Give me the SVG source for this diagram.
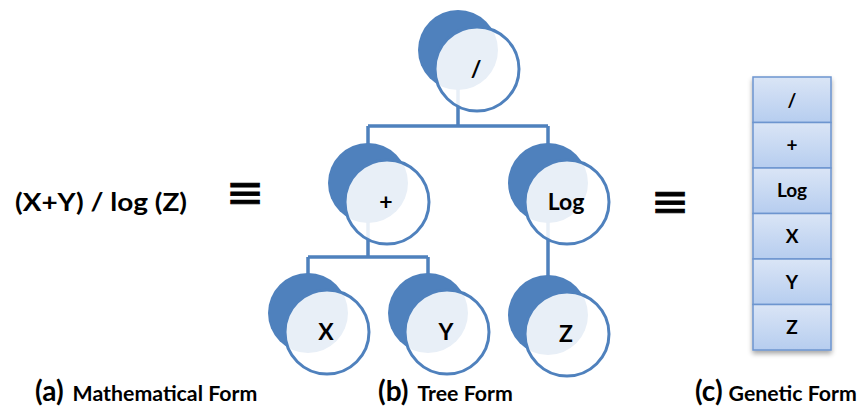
<svg xmlns="http://www.w3.org/2000/svg" width="862" height="410" viewBox="0 0 862 410">
  <defs>
    <style>
      .lbl { font-family: Lato, "Open Sans", "Liberation Sans", sans-serif; font-weight: bold; fill: #000; }
      .node-text { font-size: 23px; text-anchor: middle; }
      .cell-text { font-size: 19px; text-anchor: middle; }
      .back { fill: #4f81bd; }
      .front { fill: #ffffff; fill-opacity: 0.87; stroke: #4f81bd; stroke-width: 3; }
      .edge { fill: none; stroke: #4f81bd; stroke-width: 3.5; }
      .cell { fill: url(#cellGrad); stroke: #6d95cf; stroke-width: 1.5; }
      .equiv { font-family: "DejaVu Sans", sans-serif; font-size: 46px; text-anchor: middle; fill: #000; stroke: #000; stroke-width: 0.8; }
      .cap-tag { font-size: 28px; }
      .cap-text { font-size: 21.3px; }
    </style>
    <linearGradient id="cellGrad" x1="0" y1="0" x2="0" y2="1">
      <stop offset="0" stop-color="#dae5f6"/>
      <stop offset="1" stop-color="#b6cdef"/>
    </linearGradient>
    <filter id="shadow" x="-20%" y="-10%" width="140%" height="120%">
      <feGaussianBlur in="SourceAlpha" stdDeviation="2.5"/>
      <feOffset dx="0" dy="3" result="b"/>
      <feComponentTransfer><feFuncA type="linear" slope="0.35"/></feComponentTransfer>
      <feMerge><feMergeNode/><feMergeNode in="SourceGraphic"/></feMerge>
    </filter>
  </defs>

  <!-- (a) mathematical form -->
  <g id="math-form">
    <text class="lbl" x="15" y="211" font-size="25" textLength="172" lengthAdjust="spacingAndGlyphs">(X+Y) / log (Z)</text>
  </g>
  <text class="equiv" x="245" y="208">≡</text>
  <text class="equiv" x="670" y="216.5">≡</text>

  <!-- tree connectors -->
  <g id="connectors">
    <path class="edge" d="M458 50 V126 M368 126 H548 M368 126 V160 M548 126 V160"/>
    <path class="edge" d="M368 183 V257 M308 257 H428 M308 257 V290 M428 257 V290"/>
    <path class="edge" d="M548 183 V290"/>
  </g>

  <!-- tree nodes: filled back disc plus translucent front disc -->
  <g id="node-div">
    <circle class="back" cx="458" cy="50" r="40"/>
    <circle class="front" cx="477" cy="69" r="42"/>
    <text class="lbl node-text" x="476" y="77">/</text>
  </g>
  <g id="node-plus">
    <circle class="back" cx="368" cy="183" r="40"/>
    <circle class="front" cx="387" cy="202" r="42"/>
    <text class="lbl node-text" x="386" y="210">+</text>
  </g>
  <g id="node-log">
    <circle class="back" cx="548" cy="183" r="40"/>
    <circle class="front" cx="567" cy="202" r="42"/>
    <text class="lbl node-text" x="566" y="210">Log</text>
  </g>
  <g id="node-x">
    <circle class="back" cx="308" cy="313" r="40"/>
    <circle class="front" cx="327" cy="332" r="42"/>
    <text class="lbl node-text" x="326" y="340">X</text>
  </g>
  <g id="node-y">
    <circle class="back" cx="428" cy="313" r="40"/>
    <circle class="front" cx="447" cy="332" r="42"/>
    <text class="lbl node-text" x="446" y="340">Y</text>
  </g>
  <g id="node-z">
    <circle class="back" cx="548" cy="315" r="40"/>
    <circle class="front" cx="567" cy="334" r="42"/>
    <text class="lbl node-text" x="566" y="342">Z</text>
  </g>

  <!-- (c) genetic form: chromosome cells -->
  <g id="genome" filter="url(#shadow)">
    <rect class="cell" x="753" y="77" width="78" height="45.5"/>
    <rect class="cell" x="753" y="122.5" width="78" height="45.5"/>
    <rect class="cell" x="753" y="168" width="78" height="45.5"/>
    <rect class="cell" x="753" y="213.5" width="78" height="45.5"/>
    <rect class="cell" x="753" y="259" width="78" height="45.5"/>
    <rect class="cell" x="753" y="304.5" width="78" height="45.5"/>
  </g>
  <g id="genome-labels">
    <text class="lbl cell-text" x="792" y="107">/</text>
    <text class="lbl cell-text" x="792" y="152">+</text>
    <text class="lbl cell-text" x="792" y="197">Log</text>
    <text class="lbl cell-text" x="792" y="243">X</text>
    <text class="lbl cell-text" x="792" y="289">Y</text>
    <text class="lbl cell-text" x="792" y="334">Z</text>
  </g>

  <!-- captions -->
  <text class="lbl" x="35" y="401"><tspan class="cap-tag">(a)</tspan><tspan class="cap-text" dx="9">Mathematical Form</tspan></text>
  <text class="lbl" x="378" y="401"><tspan class="cap-tag">(b)</tspan><tspan class="cap-text" dx="9">Tree Form</tspan></text>
  <text class="lbl" x="695" y="401"><tspan class="cap-tag">(c)</tspan><tspan class="cap-text" dx="6">Genetic Form</tspan></text>
</svg>
